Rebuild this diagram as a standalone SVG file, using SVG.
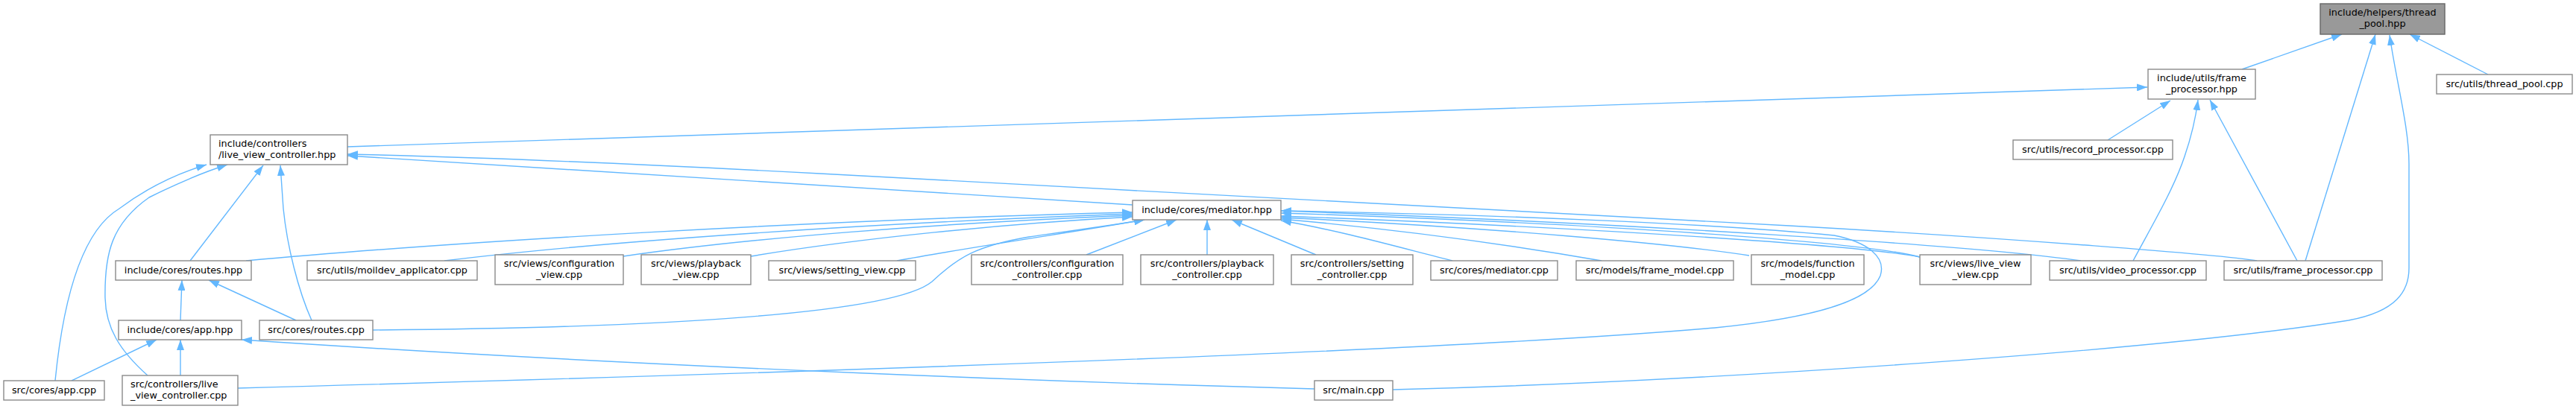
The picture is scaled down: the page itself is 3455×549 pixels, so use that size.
<svg xmlns="http://www.w3.org/2000/svg" width="3455" height="549" viewBox="0 0 3455 549">
<defs>
<marker id="ah" viewBox="0 0 14 10" refX="14" refY="5" markerWidth="14" markerHeight="10" markerUnits="userSpaceOnUse" orient="auto">
<path d="M0,0 L14,5 L0,10 z" fill="#63b8ff"/>
</marker>
<style>
.e{fill:none;stroke:#63b8ff;stroke-width:1.4;marker-end:url(#ah)}
.n rect{fill:#ffffff;stroke:#8a8a8a;stroke-width:1.4}
.root rect{fill:#999999;stroke:#666666;stroke-width:1.4}
text{font-family:"DejaVu Sans","Liberation Sans",sans-serif;font-size:12.8px;fill:#000}
.c{text-anchor:middle}
</style>
</defs>
<rect width="3455" height="549" fill="#ffffff"/>
<g id="edges">
<path class="e" d="M3007,93 L3141,46"/>
<path class="e" d="M3337,100 L3232,46"/>
<path class="e" d="M3092,350 L3186,46"/>
<path class="e" d="M1868,523 C2300,512 2900,470 3150,430 C3215,418 3231,390 3231,360 L3231,220 C3231,170 3214,110 3205,47"/>
<path class="e" d="M466,197 L2880,117"/>
<path class="e" d="M2827,188 L2911,135"/>
<path class="e" d="M2861,350 C2885,305 2915,255 2930,210 C2942,175 2946,150 2948,134"/>
<path class="e" d="M3081,350 L2964,134"/>
<path class="e" d="M1519,275 L466,209"/>
<path class="e" d="M3027,350 C2980,342 2700,320 2400,303 L1100,233 C800,217 600,210 466,207"/>
<path class="e" d="M255,350 L353,222"/>
<path class="e" d="M418,430 C400,390 385,330 380,280 L376,222"/>
<path class="e" d="M74,511 C85,400 110,310 160,280 C200,250 240,232 277,221"/>
<path class="e" d="M198,504 C160,470 142,440 141,400 C140,340 150,300 200,265 C240,245 270,232 305,221"/>
<path class="e" d="M242,430 L244,376"/>
<path class="e" d="M397,430 L280,376"/>
<path class="e" d="M96,511 L210,456"/>
<path class="e" d="M242,504 L242,456"/>
<path class="e" d="M1763,522 C1500,515 900,495 324,456"/>
<path class="e" d="M330,350 C600,325 1100,295 1519,285"/>
<path class="e" d="M596,350 C800,325 1150,300 1519,287"/>
<path class="e" d="M836,344 C1000,320 1250,300 1519,289"/>
<path class="e" d="M1007,344 C1150,320 1350,300 1519,291"/>
<path class="e" d="M1203,350 C1300,332 1450,310 1535,295"/>
<path class="e" d="M500,443 C900,440 1200,420 1250,378 C1285,345 1310,330 1380,318 C1450,308 1500,301 1535,295"/>
<path class="e" d="M1457,342 L1578,295"/>
<path class="e" d="M1619,342 L1619,295"/>
<path class="e" d="M1765,342 L1652,295"/>
<path class="e" d="M1948,350 C1880,333 1800,310 1718,296"/>
<path class="e" d="M2148,350 C2050,333 1900,310 1718,294"/>
<path class="e" d="M2346,343 C2250,328 2000,305 1718,292"/>
<path class="e" d="M2575,345 C2500,330 2150,306 1718,290"/>
<path class="e" d="M2575,345 C2500,325 2150,300 1718,286"/>
<path class="e" d="M2791,350 C2650,330 2200,300 1718,283"/>
<path class="e" d="M319,521 C900,505 1900,475 2300,440 C2450,425 2510,400 2522,370 C2530,345 2505,325 2460,316 C2300,300 2000,288 1718,283"/>
</g>
<g id="thread_pool_hpp" class="root"><rect x="3112" y="5" width="167" height="41"/><text class="c" x="3195.5" y="21">include/helpers/thread</text><text class="c" x="3195.5" y="36">_pool.hpp</text></g>
<g id="frame_processor_hpp" class="n"><rect x="2881" y="93" width="144" height="40"/><text class="c" x="2953" y="109">include/utils/frame</text><text class="c" x="2953" y="124">_processor.hpp</text></g>
<g id="thread_pool_cpp" class="n"><rect x="3268" y="100" width="182" height="26"/><text class="c" x="3359" y="117">src/utils/thread_pool.cpp</text></g>
<g id="live_view_controller_hpp" class="n"><rect x="282" y="181" width="184" height="40"/><text x="293" y="197">include/controllers</text><text x="293" y="212">/live_view_controller.hpp</text></g>
<g id="record_processor_cpp" class="n"><rect x="2700" y="188" width="214" height="26"/><text class="c" x="2807" y="205">src/utils/record_processor.cpp</text></g>
<g id="mediator_hpp" class="n"><rect x="1519" y="269" width="199" height="26"/><text class="c" x="1618.5" y="286">include/cores/mediator.hpp</text></g>
<g id="routes_hpp" class="n"><rect x="155" y="350" width="182" height="26"/><text class="c" x="246" y="367">include/cores/routes.hpp</text></g>
<g id="moildev_applicator_cpp" class="n"><rect x="412" y="350" width="228" height="26"/><text class="c" x="526" y="367">src/utils/moildev_applicator.cpp</text></g>
<g id="configuration_view_cpp" class="n"><rect x="664" y="342" width="172" height="40"/><text class="c" x="750" y="358">src/views/configuration</text><text class="c" x="750" y="373">_view.cpp</text></g>
<g id="playback_view_cpp" class="n"><rect x="860" y="342" width="147" height="40"/><text class="c" x="933.5" y="358">src/views/playback</text><text class="c" x="933.5" y="373">_view.cpp</text></g>
<g id="setting_view_cpp" class="n"><rect x="1031" y="350" width="197" height="26"/><text class="c" x="1129.5" y="367">src/views/setting_view.cpp</text></g>
<g id="configuration_controller_cpp" class="n"><rect x="1303" y="342" width="203" height="40"/><text class="c" x="1404.5" y="358">src/controllers/configuration</text><text class="c" x="1404.5" y="373">_controller.cpp</text></g>
<g id="playback_controller_cpp" class="n"><rect x="1530" y="342" width="178" height="40"/><text class="c" x="1619" y="358">src/controllers/playback</text><text class="c" x="1619" y="373">_controller.cpp</text></g>
<g id="setting_controller_cpp" class="n"><rect x="1732" y="342" width="163" height="40"/><text class="c" x="1813.5" y="358">src/controllers/setting</text><text class="c" x="1813.5" y="373">_controller.cpp</text></g>
<g id="mediator_cpp" class="n"><rect x="1919" y="350" width="170" height="26"/><text class="c" x="2004" y="367">src/cores/mediator.cpp</text></g>
<g id="frame_model_cpp" class="n"><rect x="2114" y="350" width="211" height="26"/><text class="c" x="2219.5" y="367">src/models/frame_model.cpp</text></g>
<g id="function_model_cpp" class="n"><rect x="2349" y="342" width="151" height="40"/><text class="c" x="2424.5" y="358">src/models/function</text><text class="c" x="2424.5" y="373">_model.cpp</text></g>
<g id="live_view_view_cpp" class="n"><rect x="2575" y="342" width="149" height="40"/><text class="c" x="2649.5" y="358">src/views/live_view</text><text class="c" x="2649.5" y="373">_view.cpp</text></g>
<g id="video_processor_cpp" class="n"><rect x="2749" y="350" width="210" height="26"/><text class="c" x="2854" y="367">src/utils/video_processor.cpp</text></g>
<g id="frame_processor_cpp" class="n"><rect x="2983" y="350" width="212" height="26"/><text class="c" x="3089" y="367">src/utils/frame_processor.cpp</text></g>
<g id="app_hpp" class="n"><rect x="159" y="430" width="165" height="26"/><text class="c" x="241.5" y="447">include/cores/app.hpp</text></g>
<g id="routes_cpp" class="n"><rect x="348" y="430" width="152" height="26"/><text class="c" x="424" y="447">src/cores/routes.cpp</text></g>
<g id="app_cpp" class="n"><rect x="5" y="511" width="135" height="26"/><text class="c" x="72.5" y="528">src/cores/app.cpp</text></g>
<g id="live_view_controller_cpp" class="n"><rect x="164" y="504" width="155" height="40"/><text x="175" y="520">src/controllers/live</text><text x="175" y="535">_view_controller.cpp</text></g>
<g id="main_cpp" class="n"><rect x="1763" y="511" width="105" height="26"/><text class="c" x="1815.5" y="528">src/main.cpp</text></g>
</svg>
